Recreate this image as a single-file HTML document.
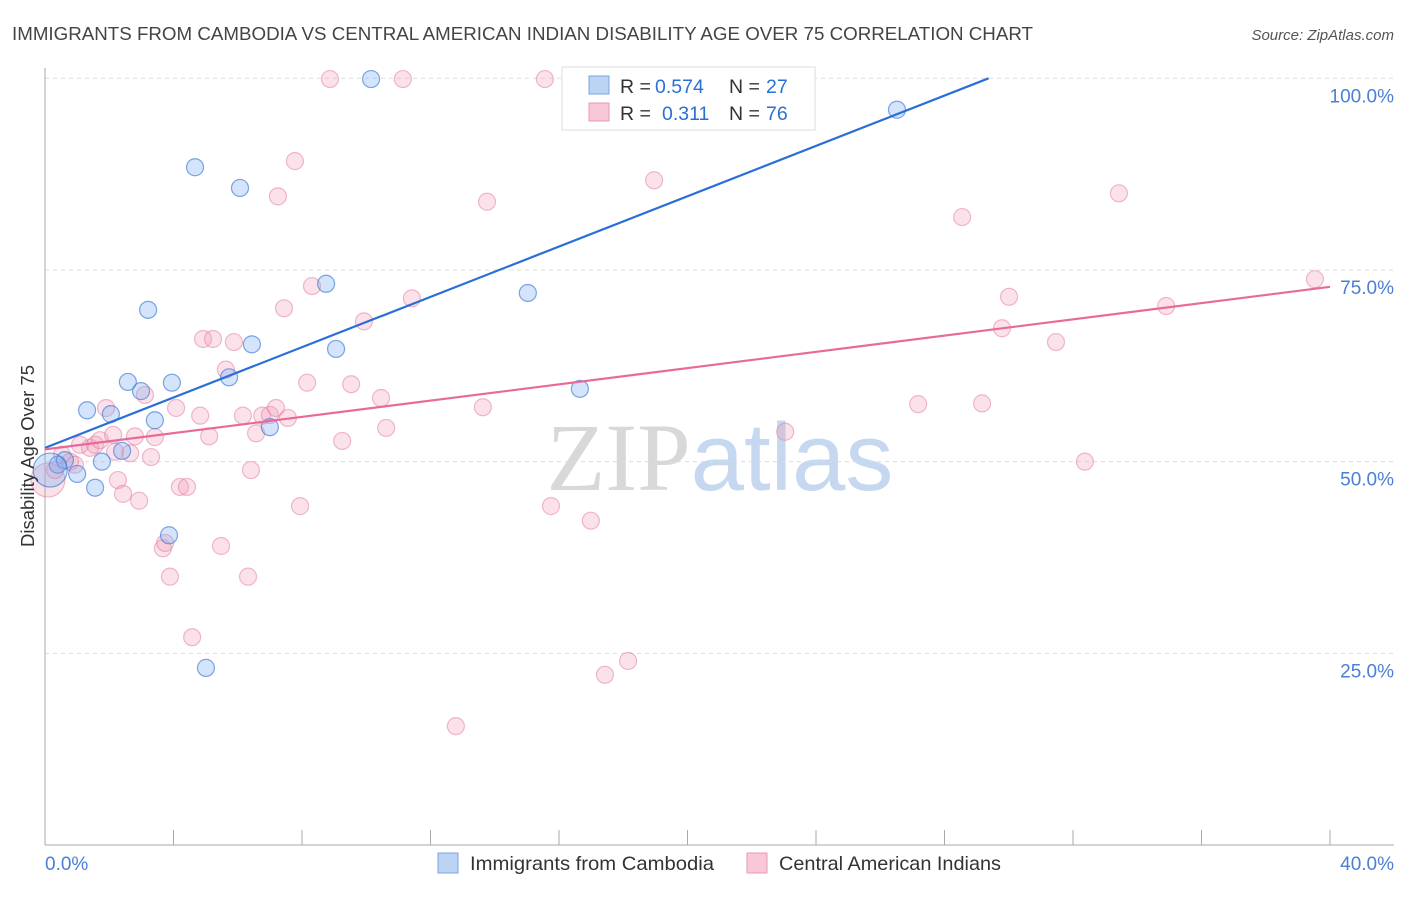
<!DOCTYPE html>
<html><head><meta charset="utf-8"><style>
body{margin:0;background:#fff;font-family:"Liberation Sans",sans-serif;}
svg text{font-family:"Liberation Sans",sans-serif;}
</style></head><body>
<svg id="chart" width="1406" height="892" xmlns="http://www.w3.org/2000/svg">
<text x="12" y="40" font-size="18.5" fill="#444" textLength="1021" lengthAdjust="spacingAndGlyphs">IMMIGRANTS FROM CAMBODIA VS CENTRAL AMERICAN INDIAN DISABILITY AGE OVER 75 CORRELATION CHART</text>
<text x="1394" y="40" font-size="15" fill="#555" text-anchor="end" font-style="italic">Source: ZipAtlas.com</text>
<text x="720" y="490" font-size="96" text-anchor="middle"><tspan fill="#d8d8d8" font-family="Liberation Serif">ZIP</tspan><tspan fill="#c6d8ef">atlas</tspan></text>
<g id="grid"></g><g id="axes"></g><g id="pts"></g><g id="lines"></g>
<text transform="translate(34,456) rotate(-90)" font-size="18.5" fill="#333" text-anchor="middle">Disability Age Over 75</text>
<text x="45" y="870" font-size="19" fill="#4a7fd4">0.0%</text>
<text x="1394" y="870" font-size="19" fill="#4a7fd4" text-anchor="end">40.0%</text>
<g>
<rect x="562" y="67" width="253" height="63" fill="#fff" stroke="#ddd"/>
<rect x="589" y="76" width="20" height="18" fill="#bcd4f4" stroke="#7aa4e0"/>
<rect x="589" y="103" width="20" height="18" fill="#f8c8d8" stroke="#e89ab4"/>
<text x="620" y="93" font-size="19.5" fill="#333">R =</text>
<text x="655" y="93" font-size="19.5" fill="#2a6fd6">0.574</text>
<text x="729" y="93" font-size="19.5" fill="#333">N =</text>
<text x="766" y="93" font-size="19.5" fill="#2a6fd6">27</text>
<text x="620" y="120" font-size="19.5" fill="#333">R =</text>
<text x="662" y="120" font-size="19.5" fill="#2a6fd6">0.311</text>
<text x="729" y="120" font-size="19.5" fill="#333">N =</text>
<text x="766" y="120" font-size="19.5" fill="#2a6fd6">76</text>
</g>
<g>
<rect x="438" y="853" width="20" height="20" fill="#bcd4f4" stroke="#7aa4e0"/>
<text x="470" y="870" font-size="19.5" fill="#333" textLength="244" lengthAdjust="spacingAndGlyphs">Immigrants from Cambodia</text>
<rect x="747" y="853" width="20" height="20" fill="#f8c8d8" stroke="#e89ab4"/>
<text x="779" y="870" font-size="19.5" fill="#333" textLength="222" lengthAdjust="spacingAndGlyphs">Central American Indians</text>
</g>
</svg>
<script>
const yTicks=[25,50,75,100];
const yTickLabels=["25.0%","50.0%","75.0%","100.0%"];
const blueX=[0.40,0.62,1.31,1.56,1.77,1.00,2.05,2.40,2.58,2.99,3.21,3.42,3.86,3.95,4.67,5.01,5.73,6.07,6.44,7.00,8.75,9.06,10.15,15.03,16.65,26.52,0.16];
const blueY=[49.6,50.2,56.7,46.6,50.0,48.4,56.2,51.4,60.4,59.2,69.8,55.4,40.4,60.3,88.4,23.1,61.0,85.7,65.3,54.5,73.2,64.7,99.9,72.0,59.5,95.9,48.9];
const pinkX=[0.09,0.31,0.53,0.78,0.93,1.09,1.40,1.56,1.71,1.90,2.12,2.27,2.43,2.65,2.80,2.93,3.11,3.30,3.42,3.67,3.74,3.89,4.08,4.20,4.42,4.58,4.83,4.92,5.11,5.23,5.48,5.63,5.88,6.16,6.32,6.41,6.57,6.76,7.00,7.19,7.25,7.44,7.56,7.78,7.94,8.16,8.31,8.87,9.25,9.53,9.93,10.46,10.62,11.14,11.42,12.79,13.63,13.76,15.56,15.75,16.99,17.43,18.15,18.96,23.04,27.18,28.55,29.17,29.79,30.01,31.47,32.37,33.43,34.90,39.53,2.18];
const pinkY=[47.6,48.9,50.9,50.0,49.6,52.2,51.8,52.2,52.8,57.0,53.5,47.6,45.8,51.1,53.3,44.9,58.7,50.6,53.2,38.7,39.4,35.0,57.0,46.7,46.7,27.1,56.0,66.0,53.3,66.0,39.0,62.0,65.6,56.0,35.0,48.9,53.7,56.0,56.1,57.0,84.6,70.0,55.7,89.2,44.2,60.3,72.9,99.9,52.7,60.1,68.3,58.3,54.4,99.9,71.3,15.5,57.1,83.9,99.9,44.2,42.3,22.2,24.0,86.7,53.9,57.5,81.9,57.6,67.4,71.5,65.6,50.0,85.0,70.3,73.8,51.3];
const blueLine=[51.8,1.641]; // intercept, slope per %
const pinkLine=[51.6,0.53];
const X=v=>45+v*(1285/40), Y=v=>845-v*7.667;
const NS="http://www.w3.org/2000/svg";
function mk(p,t,a){const e=document.createElementNS(NS,t);for(const k in a)e.setAttribute(k,a[k]);p.appendChild(e);return e;}
const grid=document.getElementById('grid'),axes=document.getElementById('axes'),pts=document.getElementById('pts'),lines=document.getElementById('lines');
yTicks.forEach((t,i)=>{
 const l=mk(grid,'line',{x1:45,x2:1394,y1:Y(t),y2:Y(t),stroke:'#ddd','stroke-dasharray':'4,4'});
 
 
 const tx=mk(grid,'text',{x:1394,y:Y(t)+24,'font-size':19,fill:'#4a7fd4','text-anchor':'end'});
 tx.textContent=yTickLabels[i];
 
 
});
const ya=mk(axes,'line',{x1:45,x2:45,y1:68,y2:845,stroke:'#aaa'});


const xa=mk(axes,'line',{x1:45,x2:1394,y1:845,y2:845,stroke:'#aaa'});


for(let i=0;i<=10;i++){const tk=mk(axes,'line',{x1:X(i*4),x2:X(i*4),y1:830,y2:845,stroke:'#aaa'});
 
 }
function dots(xs,ys,fill,stroke,name){xs.forEach((x,i)=>{
 const r=(x<0.2)?17:8.5;
 const c=mk(pts,'circle',{cx:X(x),cy:Y(ys[i]),r:r,fill:fill,stroke:stroke,'stroke-width':1.2});
 
 });}
dots(pinkX,pinkY,'rgba(240,150,180,0.28)','rgba(226,120,160,0.5)','central-american-indian-point');
dots(blueX,blueY,'rgba(120,170,240,0.32)','rgba(60,120,210,0.65)','cambodia-point');
function tl(p,end,col,name){const l=mk(lines,'line',{x1:X(0),y1:Y(p[0]),x2:X(end),y2:Y(p[0]+p[1]*end),stroke:col,'stroke-width':2.2});
 
 }
tl(blueLine,Math.min(40,(100-blueLine[0])/blueLine[1]),'#2a6fd6','cambodia-trend-line');
tl(pinkLine,40,'#e86a98','central-american-indian-trend-line');
</script>
</body></html>
